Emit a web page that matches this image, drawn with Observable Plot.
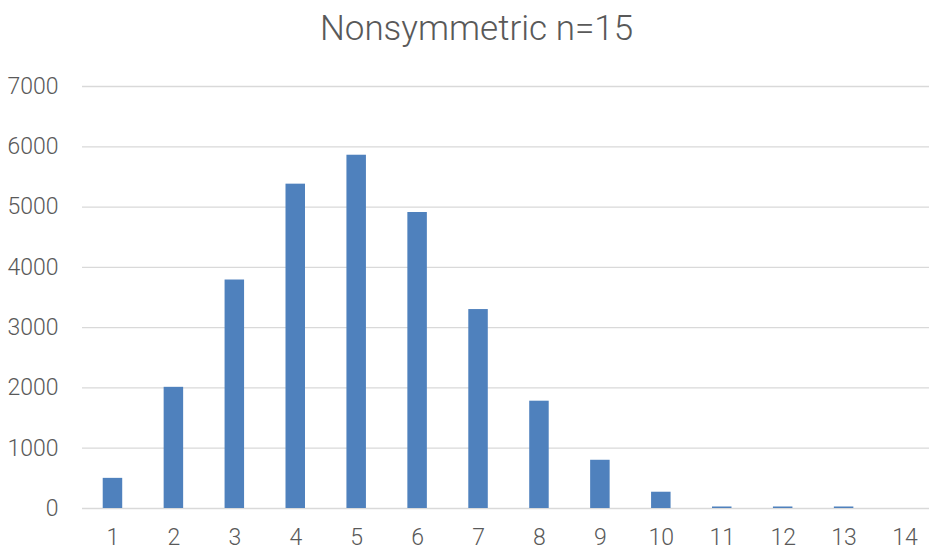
<!DOCTYPE html>
<html>
<head>
<meta charset="utf-8">
<script src="https://cdn.jsdelivr.net/npm/d3@7"></script>
<script src="https://cdn.jsdelivr.net/npm/@observablehq/plot@0.6"></script>
<style>
  html, body { margin: 0; padding: 0; background: #fff; overflow: hidden; }
  #title {
    height: 62px;
    box-sizing: border-box;
    padding-left: 24px;
    padding-top: 9px;
    text-align: center;
    font-family: Roboto, "Open Sans", sans-serif;
    font-weight: 300;
    font-size: 35px;
    line-height: 40px;
    color: #595959;
  }
  #chart svg { display: block; overflow: visible; }
</style>
</head>
<body>
<div id="title">Nonsymmetric n=15</div>
<div id="chart"></div>
<script>
// Frequency of each outcome
const categories = ["1", "2", "3", "4", "5", "6", "7", "8", "9", "10", "11", "12", "13", "14"];
const counts = [500, 2010, 3790, 5380, 5860, 4910, 3300, 1780, 800, 270, 25, 25, 25, 0];
const yTicks = [0, 1000, 2000, 3000, 4000, 5000, 6000, 7000];

const data = categories.map((c, i) => ({category: c, count: counts[i]}));

const chart = Plot.plot({
  width: 929,
  height: 492,
  marginTop: 24,
  marginBottom: 46,
  marginLeft: 82,
  marginRight: 0,
  style: {
    fontFamily: "Roboto, 'Open Sans', sans-serif",
    fontWeight: 300,
    fontSize: "23px",
    color: "#595959",
    background: "#fff"
  },
  x: {
    domain: categories,
    range: [82, 935],
    paddingInner: 0.68,
    paddingOuter: 0.34,
    align: 0.5,
    round: false,
    label: null
  },
  y: {
    domain: [0, 7000],
    label: null
  },
  marks: [
    Plot.ruleY(yTicks, {stroke: "#d9d9d9", strokeWidth: 1.3}),
    Plot.barY(data, {x: "category", y: "count", fill: "#4f81bd"}),
    Plot.axisY({ticks: yTicks, tickSize: 0, tickPadding: 24, tickFormat: d => String(d), label: null, fill: "#595959"}),
    Plot.axisX({tickSize: 0, tickPadding: 20, label: null, fill: "#595959"})
  ]
});

document.getElementById("chart").appendChild(chart);
</script>
</body>
</html>
